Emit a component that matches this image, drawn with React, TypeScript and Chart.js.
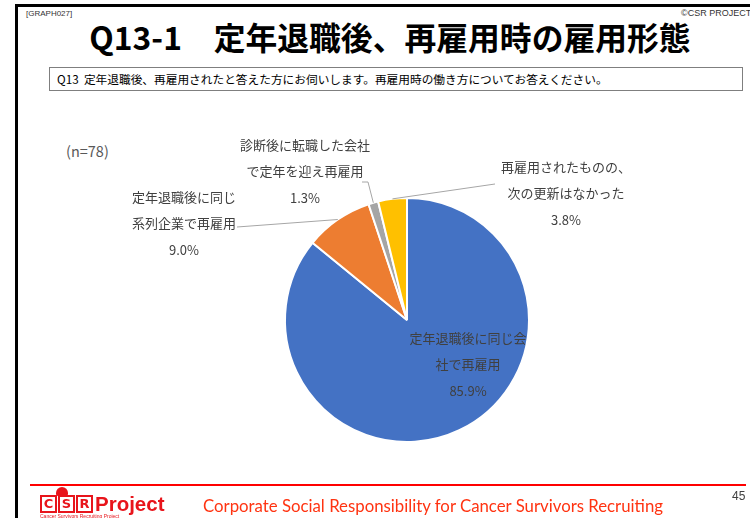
import React, { useEffect, useRef } from "react";
import { Chart, registerables } from "chart.js";

Chart.register(...registerables);

// ---- data ----
const categories = [
  "定年退職後に同じ会社で再雇用",
  "定年退職後に同じ系列企業で再雇用",
  "診断後に転職した会社で定年を迎え再雇用",
  "再雇用されたものの、次の更新はなかった",
];
const values = [85.9, 9.0, 1.3, 3.8];
const labelLines = [
  ["定年退職後に同じ会", "社で再雇用"],
  ["定年退職後に同じ", "系列企業で再雇用"],
  ["診断後に転職した会社", "で定年を迎え再雇用"],
  ["再雇用されたものの、", "次の更新はなかった"],
];
const colors = ["#4472C4", "#ED7D31", "#A5A5A5", "#FFC000"];

// label layout: text centre offset (from pie centre) of first line; leader start points
const labelLayout = [
  { dx: 61, dy: 18, leader: null as null | number[][] },
  { dx: -223, dy: -123, leader: [[-170, -93]] },
  { dx: -102, dy: -175, leader: [[-45, -138], [-39, -138]] },
  { dx: 159, dy: -153, leader: [[88, -136]] },
];

const FONT = '"Noto Sans CJK JP", "Noto Sans", sans-serif';

const sliceLabels = {
  id: "sliceLabels",
  afterDraw(chart: any) {
    const ctx = chart.ctx;
    const meta = chart.getDatasetMeta(0);
    meta.data.forEach((arc: any, i: number) => {
      const p = arc.getProps(["x", "y", "startAngle", "endAngle", "outerRadius"], true);
      const lay = labelLayout[i];
      const mid = (p.startAngle + p.endAngle) / 2;
      if (lay.leader) {
        ctx.save();
        ctx.strokeStyle = "#A6A6A6";
        ctx.lineWidth = 1;
        ctx.beginPath();
        lay.leader.forEach((pt, k) => {
          if (k === 0) ctx.moveTo(p.x + pt[0], p.y + pt[1]);
          else ctx.lineTo(p.x + pt[0], p.y + pt[1]);
        });
        ctx.lineTo(p.x + Math.cos(mid) * p.outerRadius, p.y + Math.sin(mid) * p.outerRadius);
        ctx.stroke();
        ctx.restore();
      }
      ctx.save();
      ctx.fillStyle = "#404040";
      ctx.font = `13px ${FONT}`;
      ctx.textAlign = "center";
      ctx.textBaseline = "middle";
      const lines = [...labelLines[i], values[i].toFixed(1) + "%"];
      lines.forEach((t, k) => {
        ctx.fillText(t, p.x + lay.dx, p.y + lay.dy + k * 26.5);
      });
      ctx.restore();
    });
  },
};

function PieChart() {
  const ref = useRef<HTMLCanvasElement>(null);
  useEffect(() => {
    if (!ref.current) return;
    const chart = new Chart(ref.current, {
      type: "pie",
      data: {
        labels: categories,
        datasets: [
          {
            data: values,
            backgroundColor: colors,
            borderColor: "#FFFFFF",
            borderWidth: 2,
          },
        ],
      },
      options: {
        animation: false,
        responsive: false,
        devicePixelRatio: 1,
        layout: { padding: { left: 284, right: 220, top: 197, bottom: 75 } },
        plugins: { legend: { display: false }, tooltip: { enabled: false } },
      },
      plugins: [sliceLabels],
    });
    return () => chart.destroy();
  }, []);
  return (
    <canvas
      ref={ref}
      width={750}
      height={518}
      style={{ position: "absolute", left: 0, top: 0, width: 750, height: 518 }}
    />
  );
}

export default function App() {
  const box = (ch: string) => (
    <span
      style={{
        display: "inline-block",
        width: 13,
        height: 14,
        border: "2px solid #E8141B",
        color: "#E8141B",
        fontWeight: 900,
        fontSize: 13,
        lineHeight: "14px",
        textAlign: "center",
        marginRight: 1,
        fontFamily: '"DejaVu Sans", sans-serif',
      }}
    >
      {ch}
    </span>
  );
  return (
    <div
      style={{
        position: "fixed",
        left: 0,
        top: 0,
        width: 750,
        height: 518,
        background: "#fff",
        overflow: "hidden",
        fontFamily: FONT,
      }}
    >
      {/* frame */}
      <div style={{ position: "absolute", left: 15, top: 4, width: 740, height: 3, background: "#000" }} />
      <div style={{ position: "absolute", left: 15, top: 4, width: 3, height: 520, background: "#000" }} />
      <div style={{ position: "absolute", left: 26, top: 9, fontSize: 8, color: "#333", fontFamily: '"Liberation Sans", sans-serif' }}>
        [GRAPH027]
      </div>
      <div style={{ position: "absolute", left: 681, top: 8, fontSize: 9, color: "#333", whiteSpace: "nowrap", fontFamily: '"Liberation Sans", sans-serif' }}>
        ©CSR PROJECT
      </div>
      <div
        style={{
          position: "absolute",
          left: 0,
          width: 780,
          top: 13,
          textAlign: "center",
          fontSize: 31.8,
          fontWeight: 700,
          color: "#000",
          whiteSpace: "nowrap",
          lineHeight: "46px",
        }}
      >
        Q13-1　定年退職後、再雇用時の雇用形態
      </div>
      {/* question box */}
      <div
        style={{
          position: "absolute",
          left: 49,
          top: 67,
          width: 694,
          height: 24,
          border: "1px solid #7F7F7F",
          boxSizing: "border-box",
          fontSize: 11.7,
          lineHeight: "22px",
          paddingLeft: 7,
          color: "#000",
          whiteSpace: "nowrap",
        }}
      >
        Q13&nbsp;&nbsp;定年退職後、再雇用されたと答えた方にお伺いします。再雇用時の働き方についてお答えください。
      </div>
      <div style={{ position: "absolute", left: 66, top: 140, fontSize: 14.5, color: "#595959" }}>(n=78)</div>
      <PieChart />
      {/* footer */}
      <div style={{ position: "absolute", left: 30, top: 484, width: 716, height: 2, background: "#FF0000" }} />
      <div style={{ position: "absolute", left: 56, top: 487, width: 12, height: 9, borderRadius: "6px 6px 2px 2px", background: "#E8141B" }} />
      <div style={{ position: "absolute", left: 40, top: 495, whiteSpace: "nowrap", display: "flex", alignItems: "center" }}>
        {box("C")}
        {box("S")}
        {box("R")}
        <span style={{ color: "#E8141B", fontWeight: 700, fontSize: 20.5, marginLeft: 1, fontFamily: '"Liberation Sans", sans-serif', lineHeight: "18px" }}>
          Project
        </span>
      </div>
      <div style={{ position: "absolute", left: 40, top: 513, fontSize: 5, color: "#E8141B", whiteSpace: "nowrap", fontFamily: '"Liberation Sans", sans-serif' }}>
        Cancer Survivors Recruiting Project
      </div>
      <div
        style={{
          position: "absolute",
          left: 203,
          top: 495,
          fontSize: 16.8,
          color: "#FF3311",
          whiteSpace: "nowrap",
          fontFamily: 'Lato, "Open Sans", sans-serif',
        }}
      >
        Corporate Social Responsibility for Cancer Survivors Recruiting
      </div>
      <div style={{ position: "absolute", left: 732, top: 489, fontSize: 12, color: "#404040", fontFamily: '"Liberation Sans", sans-serif' }}>
        45
      </div>
    </div>
  );
}
